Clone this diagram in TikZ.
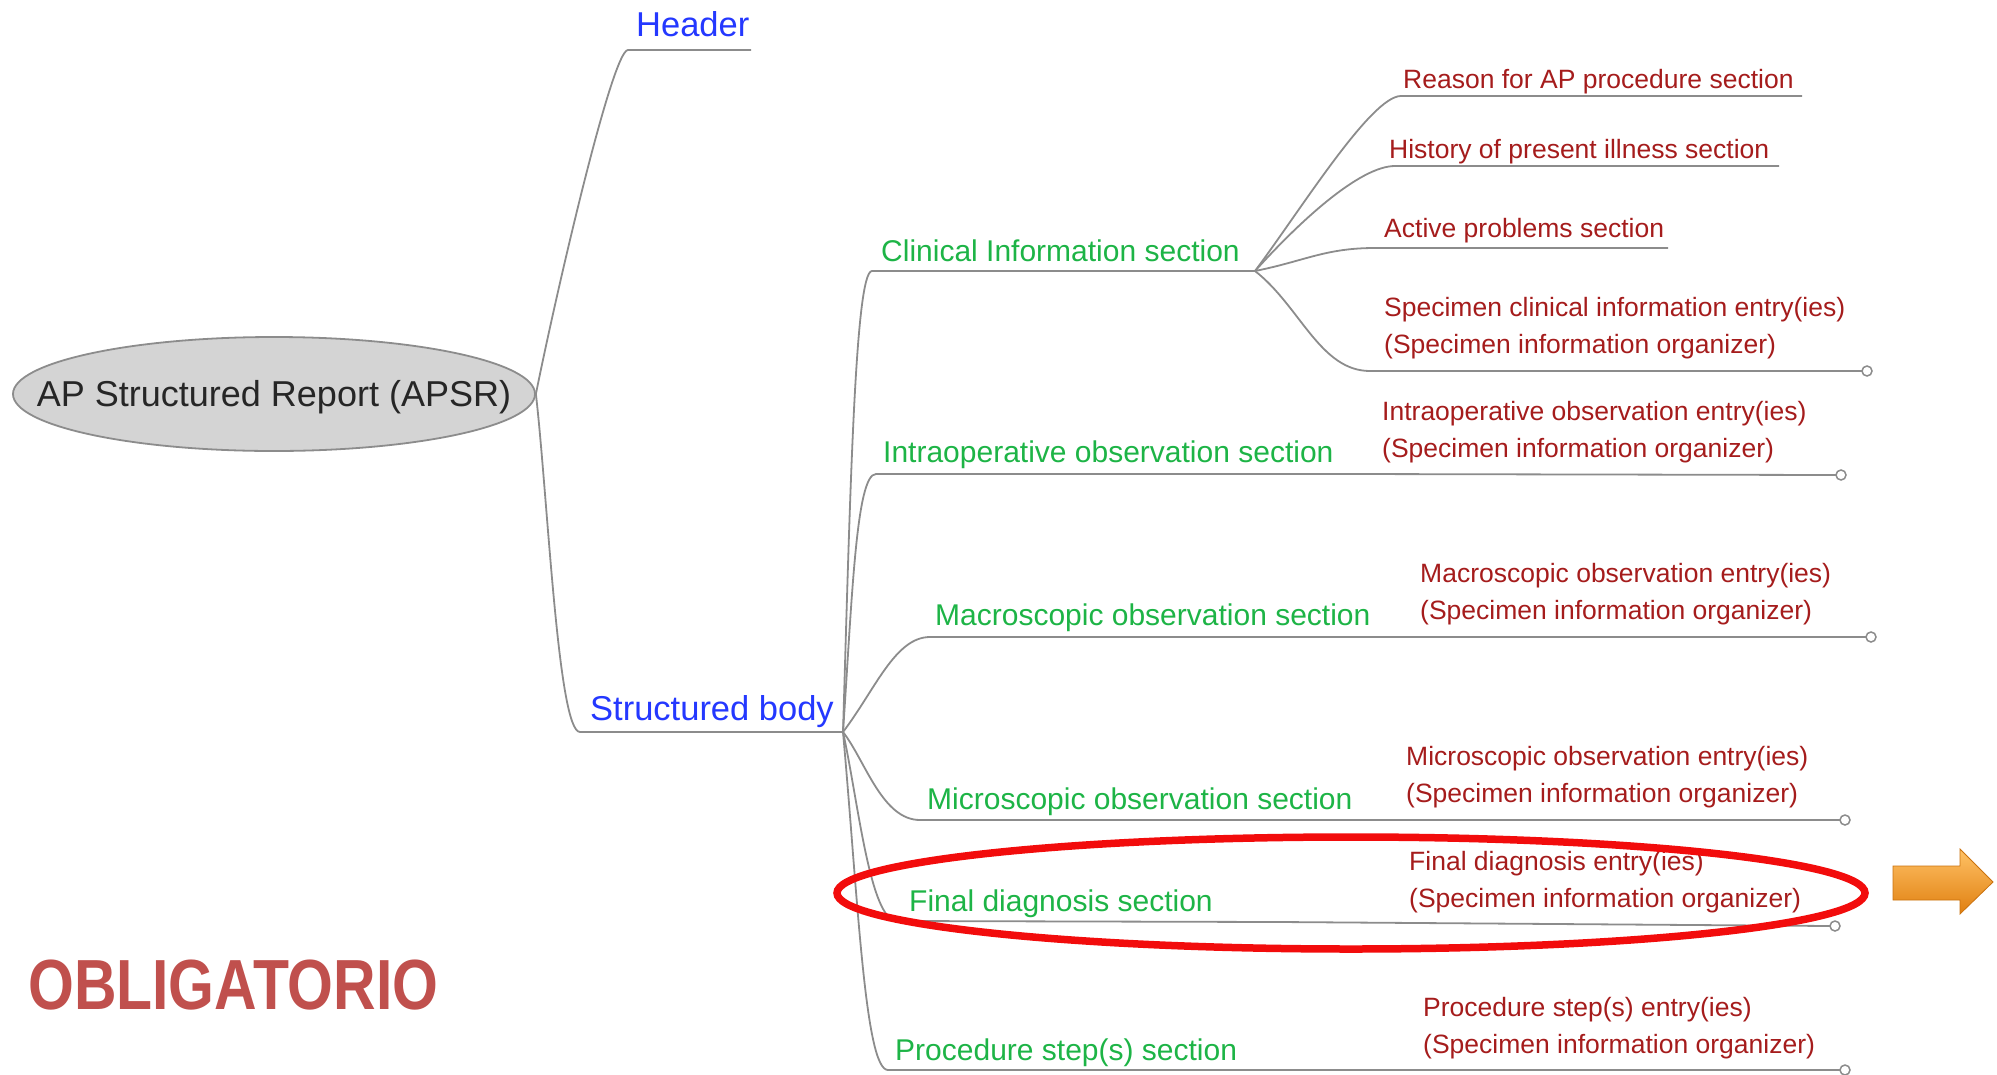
\documentclass[tikz,border=0pt]{standalone}
\usepackage{fontspec}
\setmainfont{Liberation Sans}
\usepackage{xcolor}
\usepackage{tikz}
\usetikzlibrary{calc,shapes.geometric}
\definecolor{linec}{HTML}{8C8C8C}
\definecolor{topc}{HTML}{2438FF}
\definecolor{secc}{HTML}{1DB446}
\definecolor{entc}{HTML}{A51C1C}
\definecolor{rootbg}{HTML}{D4D4D4}
\definecolor{markc}{HTML}{F20C0C}
\definecolor{obligc}{HTML}{C0504D}
\definecolor{arrowhi}{HTML}{FFC266}
\definecolor{arrowlo}{HTML}{E07F10}
\tikzset{
  br/.style={draw=linec,line width=1.8pt},
  ring/.style={draw=linec,line width=1.5pt,fill=white},
  rootnode/.style={ellipse,draw=linec,line width=1.8pt,fill=rootbg,minimum width=522pt,minimum height=114pt,inner sep=0pt,font=\fontsize{36}{40}\selectfont,text=black!85},
  topnode/.style={anchor=base west,inner sep=0pt,text=topc,font=\fontsize{34.5}{40}\selectfont},
  secnode/.style={anchor=base west,inner sep=0pt,text=secc,font=\fontsize{30}{36}\selectfont},
  entnode/.style={anchor=base west,inner sep=0pt,text=entc,align=left,font=\fontsize{26.5}{37}\selectfont}
}
\begin{document}
\begin{tikzpicture}[x=1pt,y=-1pt]
\useasboundingbox (0,0) rectangle (1997,1074);
% root
\node[rootnode] (root) at (274,394) {\makebox[0pt]{\raisebox{-12pt}[0pt][0pt]{AP Structured Report (APSR)}}};
% first level
\coordinate (hdS) at (628,50);   \coordinate (hdE) at (751,50);
\coordinate (sbS) at (580,732);  \coordinate (sbE) at (843,732);
\node[topnode] (header) at (636,36) {Header};
\node[topnode] (body) at (590,720) {Structured body};
\draw[br] (root.east) .. controls +(19,-95) and +(-16,0) .. (hdS) -- (hdE);
\draw[br] (root.east) .. controls +(12,105) and +(-22,0) .. (sbS) -- (sbE);
% sections
\coordinate (ciS) at (872,271);  \coordinate (ciE) at (1255,271);
\coordinate (ioS) at (876,474);  \coordinate (ioE) at (1350,474);
\coordinate (maS) at (930,637);  \coordinate (maE) at (1400,637);
\coordinate (miS) at (920,820);  \coordinate (miE) at (1390,820);
\coordinate (fdS) at (897,921);  \coordinate (fdE) at (1280,922);
\coordinate (psS) at (888,1070); \coordinate (psE) at (1400,1070);
\node[secnode] (clin) at (881,261) {Clinical Information section};
\node[secnode] (intra) at (883,462) {Intraoperative observation section};
\node[secnode] (macro) at (935,625) {Macroscopic observation section};
\node[secnode] (micro) at (927,809) {Microscopic observation section};
\node[secnode] (final) at (909,911) {Final diagnosis section};
\node[secnode] (proc) at (895,1060) {Procedure step(s) section};
\draw[br] (sbE) .. controls +(7,-232) and +(-17,0) .. (ciS) -- (ciE);
\draw[br] (sbE) .. controls +(9,-132) and +(-20,0) .. (ioS) -- (ioE);
\draw[br] (sbE) .. controls +(32,-42) and +(-35,0) .. (maS) -- (maE);
\draw[br] (sbE) .. controls +(22,28) and +(-38,0) .. (miS) -- (miE);
\draw[br] (sbE) .. controls +(15,68) and +(-27,0) .. (fdS) -- (fdE);
\draw[br] (sbE) .. controls +(15,168) and +(-23,0) .. (psS) -- (psE);
% clinical information children
\coordinate (rsS) at (1401,96);  \coordinate (rsE) at (1802,96);
\coordinate (hiS) at (1395,166); \coordinate (hiE) at (1779,166);
\coordinate (acS) at (1375,248); \coordinate (acE) at (1668,248);
\coordinate (scS) at (1370,371); \coordinate (scE) at (1862,371);
\node[entnode] (reason) at (1403,88) {Reason for AP procedure section};
\node[entnode] (hist) at (1389,158) {History of present illness section};
\node[entnode] (activ) at (1384,237) {Active problems section};
\node[entnode] (specc) at (1384,353) {Specimen clinical information entry(ies)\\(Specimen information organizer)};
\draw[br] (ciE) .. controls +(45,-60) and +(-30,0) .. (rsS) -- (rsE);
\draw[br] (ciE) .. controls +(45,-50) and +(-35,0) .. (hiS) -- (hiE);
\draw[br] (ciE) .. controls +(50,-10) and +(-50,0) .. (acS) -- (acE);
\draw[br] (ciE) .. controls +(45,35) and +(-50,0) .. (scS) -- (scE);
% entries of the sections
\coordinate (ioR) at (1836,475);
\coordinate (maR) at (1866,637);
\coordinate (miR) at (1840,820);
\coordinate (fdR) at (1830,926);
\coordinate (psR) at (1840,1070);
\node[entnode] (intraent) at (1382,457) {Intraoperative observation entry(ies)\\(Specimen information organizer)};
\node[entnode] (macroent) at (1420,619) {Macroscopic observation entry(ies)\\(Specimen information organizer)};
\node[entnode] (microent) at (1406,802) {Microscopic observation entry(ies)\\(Specimen information organizer)};
\node[entnode] (finalent) at (1409,907) {Final diagnosis entry(ies)\\(Specimen information organizer)};
\node[entnode] (procent) at (1423,1053) {Procedure step(s) entry(ies)\\(Specimen information organizer)};
\draw[br] (ioE) -- (ioR);
\draw[br] (maE) -- (maR);
\draw[br] (miE) -- (miR);
\draw[br] (fdE) -- (fdR);
\draw[br] (psE) -- (psR);
\foreach \r in {scE,ioR,maR,miR,fdR,psR}
  \draw[ring] ($(\r)+(5,0)$) circle (5);
% highlight
\draw[markc,line width=7.5pt] (1351,893) ellipse [x radius=514,y radius=56];
\shade[top color=arrowhi,bottom color=arrowlo,draw=arrowlo!90!black,line width=0.8pt]
  (1893,866) -- (1960,866) -- (1960,849) -- (1993,882) -- (1960,914) -- (1960,900) -- (1893,900) -- cycle;
\node[anchor=base west,inner sep=0pt,text=obligc,font=\fontsize{71}{80}\selectfont\bfseries] (oblig) at (28,1009) {\scalebox{0.83}[1]{OBLIGATORIO}};
\end{tikzpicture}
\end{document}
